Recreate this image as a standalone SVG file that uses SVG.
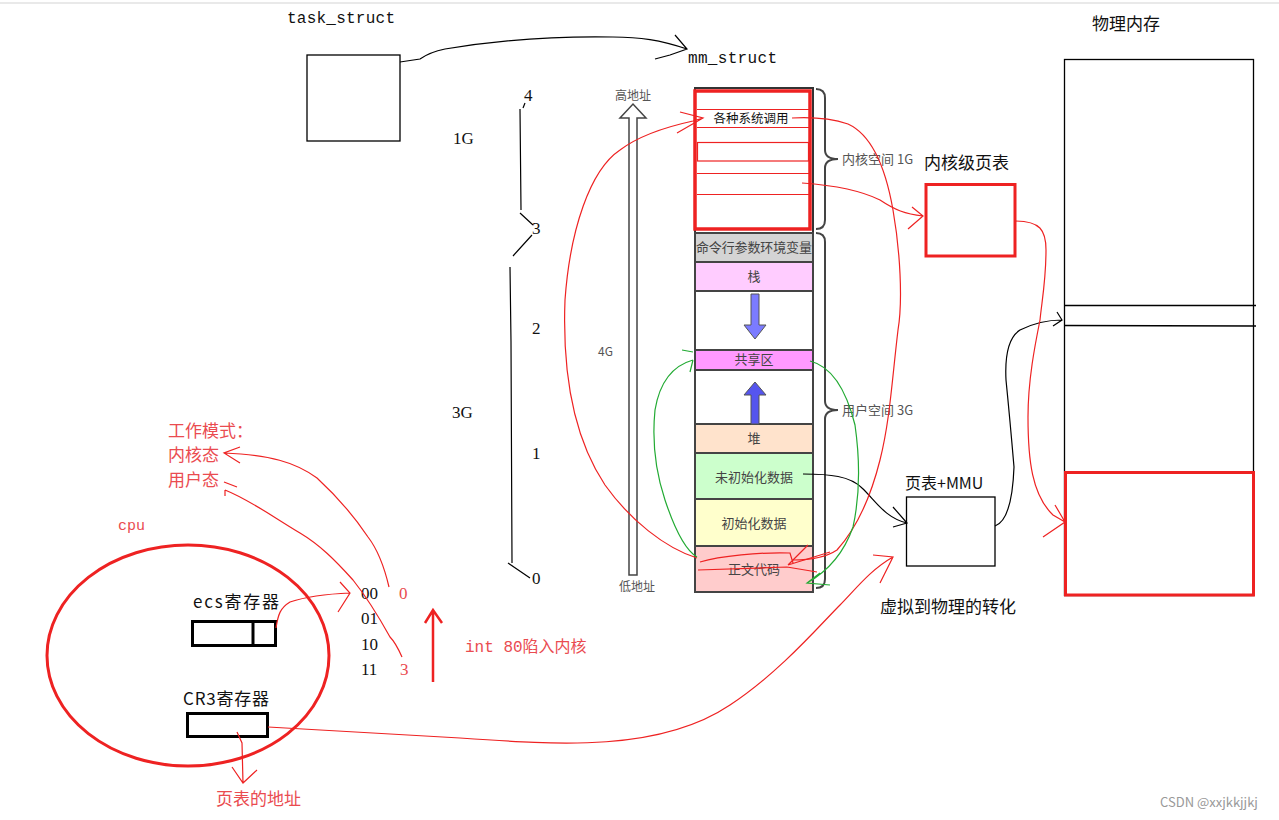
<svg xmlns="http://www.w3.org/2000/svg" width="1279" height="820" viewBox="0 0 1279 820">
<style>
.serif{font-family:"Liberation Serif","Noto Sans CJK SC",serif;}
.mono{font-family:"Liberation Mono","Noto Sans CJK SC",monospace;}
.cjk{font-family:"Noto Sans CJK SC","Liberation Sans",sans-serif;}
.red{fill:#ea4b50;}
.blk{fill:#111;}
.gray{fill:#555;}
.rl{fill:none;stroke:#ee2222;stroke-width:1.2;}
.bl{fill:none;stroke:#000;stroke-width:1.2;}
.gl{fill:none;stroke:#22aa33;stroke-width:1.2;}
.box{fill:#fff;stroke:#000;stroke-width:1.3;}
.seg{stroke:#444;stroke-width:2;}
.mt{font-family:"Noto Sans CJK SC","Liberation Sans",sans-serif;font-size:13px;fill:#444;text-anchor:middle;}
</style>
<rect width="1279" height="820" fill="#fff"/>
<line x1="0" y1="3" x2="1279" y2="3" stroke="#e2e2e2" stroke-width="1.5"/>

<g id="task_struct">
<text x="287" y="23" class="mono blk" font-size="16" textLength="108">task_struct</text>
<rect x="307" y="55" width="93" height="86" class="box"/>
</g>
<g id="mm_struct">
<text x="688" y="63" class="mono blk" font-size="16" textLength="89">mm_struct</text>
</g>

<g id="scale">
<text x="524" y="101" class="serif blk" font-size="17">4</text>
<text x="453" y="144" class="serif blk" font-size="17">1G</text>
<text x="532" y="234" class="serif blk" font-size="17">3</text>
<text x="532" y="334" class="serif blk" font-size="17">2</text>
<text x="452" y="418" class="serif blk" font-size="17">3G</text>
<text x="532" y="459" class="serif blk" font-size="17">1</text>
<text x="532" y="584" class="serif blk" font-size="17">0</text>
<path d="M525,103 L523,108 M520,109 L521,210 M520,213 L533,225 M532,235 L513,256 M510,267 L511,342 L512,563 M508,563 L530,578" class="bl"/>
</g>

<g id="addr_arrow">
<path d="M629,575 V118 H620 L633,104 L646,118 H637 V575 Z" fill="#fff" stroke="#444" stroke-width="1.5"/>
<text x="633" y="100" class="cjk gray" font-size="12" text-anchor="middle">高地址</text>
<text x="637" y="591" class="cjk gray" font-size="12" text-anchor="middle">低地址</text>
<text x="598" y="356" class="cjk gray" font-size="12">4G</text>
</g>

<g id="memory">
<rect x="695" y="88" width="118" height="145" fill="#fff" stroke="#333" stroke-width="2"/>
<rect x="695" y="233" width="118" height="29" fill="#d4d4d4" class="seg"/>
<rect x="695" y="262" width="118" height="29" fill="#ffccff" class="seg"/>
<rect x="695" y="291" width="118" height="59" fill="#fff" class="seg"/>
<rect x="695" y="350" width="118" height="20" fill="#ff99ff" class="seg"/>
<rect x="695" y="370" width="118" height="54" fill="#fff" class="seg"/>
<rect x="695" y="424" width="118" height="29" fill="#ffe3cc" class="seg"/>
<rect x="695" y="453" width="118" height="46" fill="#ccffcc" class="seg"/>
<rect x="695" y="499" width="118" height="47" fill="#ffffcc" class="seg"/>
<rect x="695" y="546" width="118" height="46" fill="#ffcccc" class="seg"/>
<text x="754" y="252" class="mt" textLength="116">命令行参数环境变量</text>
<text x="754" y="281" class="mt">栈</text>
<text x="754" y="364" class="mt">共享区</text>
<text x="754" y="443" class="mt">堆</text>
<text x="754" y="482" class="mt">未初始化数据</text>
<text x="754" y="528" class="mt">初始化数据</text>
<text x="754" y="574" class="mt">正文代码</text>
<path d="M751,294 H759 V325 H766 L755,339 L744,325 H751 Z" fill="#7b7bff" stroke="#555" stroke-width="1"/>
<path d="M751,424 V395 H744 L755,382 L766,395 H759 V424 Z" fill="#5555ee" stroke="#555" stroke-width="1"/>
<rect x="695" y="91" width="115" height="138" fill="none" stroke="#ee2222" stroke-width="3.5"/>
<g stroke="#ee2222" stroke-width="1.2" fill="none">
<line x1="697" y1="109.5" x2="809" y2="109.5"/>
<line x1="697" y1="127.5" x2="809" y2="127.5"/>
<rect x="697.5" y="142.5" width="111" height="18.5"/>
<line x1="697" y1="173.5" x2="809" y2="173.5"/>
<line x1="697" y1="194.5" x2="809" y2="194.5"/>
</g>
<text x="751" y="123" class="cjk blk" font-size="12.5" text-anchor="middle">各种系统调用</text>
<path d="M816,89 Q825,89 825,98 V150 Q825,159 838,159 Q825,159 825,168 V220 Q825,229 816,229" fill="none" stroke="#444" stroke-width="2"/>
<path d="M816,233 Q825,233 825,242 V401 Q825,410 838,410 Q825,410 825,419 V579 Q825,588 816,588" fill="none" stroke="#444" stroke-width="2"/>
<text x="842" y="164" class="cjk gray" font-size="13">内核空间 1G</text>
<text x="842" y="415" class="cjk gray" font-size="13">用户空间 3G</text>
</g>

<g id="kernel_pt">
<text x="924" y="169" class="cjk blk" font-size="17">内核级页表</text>
<rect x="926" y="184.5" width="89" height="71.5" fill="#fff" stroke="#ee2222" stroke-width="3"/>
</g>

<g id="physical">
<text x="1092" y="30" class="cjk blk" font-size="17">物理内存</text>
<rect x="1064.5" y="59.5" width="189" height="536" class="box"/>
<line x1="1064" y1="305.5" x2="1256" y2="305.5" stroke="#000" stroke-width="1.3"/>
<line x1="1064" y1="325.5" x2="1256" y2="326" stroke="#000" stroke-width="1.3"/>
<rect x="1065.5" y="472.5" width="188" height="122.5" fill="#fff" stroke="#ee2222" stroke-width="3"/>
</g>

<g id="mmu">
<text x="905" y="489" class="cjk blk" font-size="16">页表+MMU</text>
<rect x="906.5" y="497" width="88.5" height="69" class="box"/>
<text x="880" y="613" class="cjk blk" font-size="17">虚拟到物理的转化</text>
</g>

<g id="cpu">
<text x="168" y="437" class="cjk red" font-size="17">工作模式：</text>
<text x="168" y="461" class="cjk red" font-size="17">内核态</text>
<text x="168" y="486" class="cjk red" font-size="17">用户态</text>
<text x="118" y="530" class="mono red" font-size="15">cpu</text>
<ellipse cx="188" cy="655.5" rx="141" ry="110.5" fill="none" stroke="#ee2222" stroke-width="3"/>
<text x="193" y="608" class="cjk blk" font-size="17" textLength="86">ecs寄存器</text>
<rect x="192.5" y="621.5" width="83" height="24" fill="#fff" stroke="#000" stroke-width="3"/>
<line x1="253" y1="621" x2="253" y2="646" stroke="#000" stroke-width="3"/>
<text x="183" y="705" class="cjk blk" font-size="17" textLength="86">CR3寄存器</text>
<rect x="187.5" y="713.5" width="80" height="23" fill="#fff" stroke="#000" stroke-width="3"/>
<text x="216" y="805" class="cjk red" font-size="17">页表的地址</text>
<text x="361" y="599" class="serif blk" font-size="17">00</text>
<text x="361" y="624" class="serif blk" font-size="17">01</text>
<text x="361" y="650" class="serif blk" font-size="17">10</text>
<text x="361" y="675" class="serif blk" font-size="17">11</text>
<text x="399" y="599" class="serif red" font-size="17">0</text>
<text x="400" y="675" class="serif red" font-size="17">3</text>
<text x="465" y="652" class="mono red" font-size="16">int 80陷入内核</text>
</g>

<g id="connectors">
<path d="M400,62 L420,59 Q430,52 445,49 C500,40 560,36 613,37 C640,37 660,40 687,49 M675,35 L687,49 L670,55 L655,59" class="bl"/>
<path d="M803,474 C830,474 850,476 862,488 C875,500 885,518 907,523 M893,507 L907,523 L893,527" class="bl"/>
<path d="M995,526 Q1012,520 1014,467 Q1010,420 1006,380 Q1004,340 1020,330 Q1040,320 1062,320 M1057,312 L1062,320 L1053,326" class="bl"/>
<path d="M802,183 C830,185 860,190 880,200 C895,210 905,214 923,216 M912,207 L923,216 L908,229" class="rl"/>
<path d="M1015,221 C1040,221 1046,230 1046,250 C1046,280 1042,300 1040,320 C1035,345 1028,380 1028,417 C1028,460 1032,495 1053,515 L1065,522 M1055,505 L1065,522 L1043,537" class="rl"/>
<path d="M792,118 C810,117 830,118 848,124 C872,135 886,170 893,210 C900,250 903,300 898,330 C892,380 890,420 880,460 C870,500 855,530 837,550 C825,558 810,560 793,560" class="rl"/>
<path d="M703,118 L693,121 C670,126 640,135 620,150 C590,170 570,230 565,300 C562,380 575,440 605,485 C630,520 665,548 697,558 M680,112 L703,118 L677,133" class="rl"/>
<path d="M700,562 C720,556 760,552 790,553 L793,563 M698,570 L787,567 L817,572 M788,565 L808,545 M788,565 L830,552" class="rl"/>
<path d="M693,360 C675,365 660,380 655,410 C652,440 655,470 665,500 C675,530 685,550 697,557 M682,350 L693,352 M690,372 L693,360" class="gl"/>
<path d="M810,361 C830,366 845,385 855,425 C860,460 860,495 853,527 C845,550 830,570 807,583 M820,573 L807,583 L830,585" class="gl"/>
<path d="M389,587 C385,570 378,550 368,537 C350,510 330,490 317,478 C295,462 270,455 224,453 M240,447 L224,453 L240,463" class="rl"/>
<path d="M402,657 C398,648 395,642 390,637 C375,610 365,595 353,580 C335,560 320,545 300,533 C270,515 250,500 225,490 M224,482 L237,487 M225,490 L225,496" class="rl"/>
<path d="M276,628 C278,615 280,608 290,602 C305,597 325,594 350,593 M340,582 L350,593 L338,612" class="rl"/>
<path d="M433,682 V610 M425,623 L433,610 L442,623" fill="none" stroke="#ee2222" stroke-width="2.5"/>
<path d="M237,732 L242,743 L243,783 M232,767 L243,783 L257,770" class="rl"/>
<path d="M268,727 L460,738 C560,745 660,752 730,705 C780,672 820,625 840,605 C855,590 870,570 893,557 M873,555 L893,557 L880,583" class="rl"/>
</g>

<text x="1160" y="807" class="cjk" font-size="13" fill="#999">CSDN @xxjkkjjkj</text>
</svg>
